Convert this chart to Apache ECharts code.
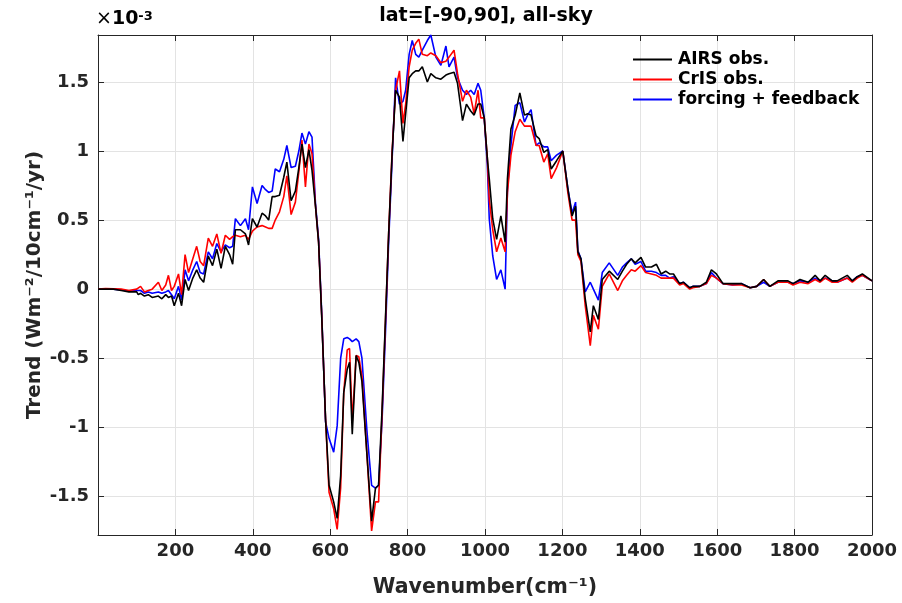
<!DOCTYPE html>
<html>
<head>
<meta charset="utf-8">
<script src="https://cdn.jsdelivr.net/npm/echarts@6/dist/echarts.min.js"></script>
<style>html,body{margin:0;padding:0;background:#fff}#c{width:902px;height:603px}</style>
</head>
<body>
<div id="c"></div>
<script>
const wavenumber = [0,20,40,60,80,100,104,110,120,130,140,156,165,175,182,190,197,208,216,225,234,245,255,264,273,285,296,307,318,329,340,348,355,368,381,389,399,411,424,433,441,450,458,469,480,488,499,510,519,527,536,545,553,562,570,578,588,597,609,618,627,635,644,650,657,667,674,682,695,707,717,725,734,743,751,760,769,779,788,795,804,812,821,829,838,851,860,873,886,899,907,920,929,942,952,963,972,982,989,998,1006,1011,1020,1030,1041,1052,1058,1067,1078,1090,1102,1110,1119,1132,1140,1152,1162,1171,1185,1201,1214,1225,1234,1240,1248,1259,1272,1280,1293,1303,1321,1343,1355,1366,1378,1388,1403,1415,1430,1443,1455,1467,1477,1487,1503,1513,1529,1537,1555,1572,1585,1598,1615,1640,1663,1685,1702,1720,1736,1757,1783,1796,1814,1835,1853,1866,1879,1897,1910,1936,1949,1962,1975,2000];

const airs = [0,0,0,-0.01,-0.02,-0.02,-0.04,-0.03,-0.05,-0.04,-0.06,-0.05,-0.07,-0.04,-0.06,-0.05,-0.12,-0.03,-0.12,0.07,-0.01,0.08,0.14,0.08,0.05,0.24,0.17,0.29,0.15,0.31,0.25,0.18,0.43,0.43,0.4,0.32,0.51,0.45,0.55,0.53,0.5,0.67,0.67,0.68,0.81,0.92,0.64,0.71,0.88,1.05,0.88,1.01,0.86,0.6,0.34,-0.19,-0.94,-1.42,-1.54,-1.66,-1.35,-0.75,-0.58,-0.53,-1.05,-0.48,-0.53,-0.67,-1.2,-1.68,-1.44,-1.42,-0.87,-0.2,0.4,0.98,1.44,1.39,1.07,1.27,1.53,1.56,1.58,1.58,1.61,1.5,1.56,1.53,1.52,1.55,1.56,1.57,1.49,1.22,1.34,1.29,1.26,1.34,1.34,1.24,0.95,0.8,0.51,0.36,0.53,0.34,0.8,1.16,1.26,1.42,1.26,1.27,1.26,1.11,1.09,0.99,1.01,0.87,0.93,1.0,0.73,0.53,0.6,0.27,0.22,-0.07,-0.31,-0.12,-0.22,0.07,0.13,0.07,0.13,0.18,0.22,0.19,0.23,0.16,0.16,0.18,0.11,0.13,0.11,0.11,0.04,0.05,0.01,0.02,0.02,0.05,0.14,0.11,0.04,0.04,0.04,0.01,0.02,0.07,0.02,0.06,0.06,0.04,0.07,0.05,0.1,0.06,0.1,0.06,0.06,0.1,0.06,0.09,0.11,0.06];

const cris = [0,0.005,0.003,0,-0.01,0,0.01,0.02,-0.02,-0.01,0,0.05,-0.01,0.03,0.1,-0.01,0.02,0.11,-0.04,0.25,0.12,0.22,0.31,0.2,0.17,0.37,0.31,0.4,0.26,0.39,0.36,0.38,0.39,0.38,0.39,0.36,0.42,0.45,0.46,0.45,0.44,0.44,0.5,0.56,0.67,0.82,0.54,0.63,0.85,1.08,0.74,1.05,0.98,0.6,0.34,-0.19,-0.94,-1.47,-1.59,-1.74,-1.44,-0.75,-0.44,-0.43,-0.96,-0.48,-0.49,-0.63,-1.2,-1.75,-1.54,-1.54,-0.9,-0.22,0.4,1.0,1.44,1.58,1.2,1.34,1.61,1.73,1.78,1.81,1.7,1.69,1.71,1.69,1.64,1.65,1.68,1.73,1.56,1.36,1.44,1.39,1.27,1.44,1.24,1.24,0.95,0.65,0.43,0.27,0.37,0.27,0.7,0.97,1.14,1.23,1.18,1.18,1.18,1.04,1.04,0.92,0.98,0.8,0.88,1.0,0.7,0.5,0.5,0.25,0.2,-0.12,-0.41,-0.19,-0.29,0.02,0.11,-0.01,0.06,0.1,0.14,0.13,0.17,0.12,0.11,0.1,0.08,0.08,0.08,0.08,0.03,0.04,0,0.01,0.02,0.04,0.1,0.08,0.04,0.03,0.03,0.01,0.02,0.07,0.02,0.05,0.05,0.03,0.05,0.04,0.07,0.05,0.08,0.05,0.05,0.08,0.05,0.08,0.1,0.06];

const model = [0,0,0,-0.005,-0.015,-0.01,-0.01,-0.01,-0.03,-0.02,-0.03,-0.02,-0.03,-0.02,-0.01,-0.04,-0.07,0.02,-0.08,0.14,0.06,0.14,0.2,0.12,0.11,0.27,0.22,0.33,0.27,0.32,0.3,0.31,0.51,0.46,0.51,0.43,0.74,0.62,0.75,0.72,0.7,0.71,0.87,0.85,0.94,1.04,0.88,0.89,1.0,1.13,1.05,1.14,1.1,0.62,0.36,-0.17,-0.96,-1.08,-1.18,-0.99,-0.5,-0.36,-0.35,-0.36,-0.38,-0.36,-0.38,-0.5,-1.03,-1.42,-1.44,-1.42,-0.95,-0.3,0.34,0.94,1.53,1.34,1.36,1.44,1.7,1.8,1.7,1.68,1.73,1.8,1.84,1.68,1.62,1.76,1.61,1.68,1.53,1.44,1.41,1.44,1.41,1.49,1.44,1.24,0.9,0.51,0.24,0.07,0.14,0,0.72,1.04,1.33,1.35,1.21,1.26,1.3,1.04,1.06,1.03,1.03,0.93,0.97,1.0,0.73,0.55,0.63,0.28,0.22,-0.02,0.05,0,-0.08,0.12,0.19,0.1,0.16,0.19,0.22,0.18,0.2,0.13,0.13,0.12,0.1,0.1,0.08,0.09,0.04,0.05,0.01,0.02,0.02,0.04,0.12,0.08,0.04,0.03,0.04,0.01,0.02,0.05,0.02,0.05,0.05,0.04,0.06,0.05,0.08,0.06,0.08,0.06,0.05,0.08,0.06,0.09,0.1,0.06];

const seriesNames = ['AIRS obs.', 'CrIS obs.', 'forcing + feedback'];
const seriesColors = ['#000000', '#ff0000', '#0000ff'];
const xTicks = [200,400,600,800,1000,1200,1400,1600,1800,2000];

function pairs(ys){ return wavenumber.map((x,i)=>[x, ys[i]]); }

const FONT = 'DejaVu Sans';
const AX = '#262626';
const chart = echarts.init(document.getElementById('c'));
const axisCommon = {
  axisLine: {show: true, onZero: false, lineStyle: {color: AX, width: 1}},
  axisTick: {show: true, inside: true, length: 6, lineStyle: {color: AX}},
};
chart.setOption({
  animation: false,
  backgroundColor: '#fff',
  grid: {left: 98, right: 30, top: 35, bottom: 66, containLabel: false},
  graphic: [
    {type: 'text', x: 486, y: 7, style: {text: 'lat=[-90,90], all-sky', align: 'center', font: 'bold 19px "DejaVu Sans"', fill: '#000'}},
    {type: 'text', x: 96, y: 10, style: {
      text: '{a|×}{b|10}{c|-3}',
      rich: {
        a: {fontFamily: FONT, fontSize: 19, color: '#262626', verticalAlign: 'bottom'},
        b: {fontFamily: FONT, fontSize: 19, fontWeight: 'bold', color: '#262626', verticalAlign: 'bottom'},
        c: {fontFamily: FONT, fontSize: 13, fontWeight: 'bold', color: '#262626', verticalAlign: 'top'}
      }
    }}
  ],
  legend: {
    data: seriesNames,
    orient: 'vertical',
    left: 633, top: 51, padding: 0,
    itemWidth: 39, itemHeight: 2, itemGap: 3,
    icon: 'rect',
    textStyle: {fontFamily: FONT, fontWeight: 'bold', fontSize: 17, color: '#000', padding: [0,0,0,1]}
  },
  xAxis: [
    Object.assign({
      type: 'value', min: 0, max: 2000, interval: 200, position: 'bottom',
      name: 'Wavenumber(cm⁻¹)', nameLocation: 'middle', nameGap: 42,
      nameTextStyle: {fontFamily: FONT, fontWeight: 'bold', fontSize: 20.5, color: AX},
      axisLabel: {show: true, margin: 7, fontFamily: FONT, fontWeight: 'bold', fontSize: 18, color: AX,
        formatter: v => (xTicks.indexOf(v) >= 0 ? String(v) : '')},
      splitLine: {show: true, lineStyle: {color: '#e3e3e3', width: 1}}
    }, axisCommon),
    Object.assign({
      type: 'value', min: 0, max: 2000, interval: 200, position: 'top',
      axisLabel: {show: false}, splitLine: {show: false}
    }, axisCommon)
  ],
  yAxis: [
    Object.assign({
      type: 'value', min: -1.78, max: 1.84, splitNumber: 7, position: 'left',
      name: 'Trend (Wm⁻²/10cm⁻¹/yr)', nameLocation: 'middle', nameGap: 53, nameRotate: 90,
      nameMoveOverlap: false,
      nameTextStyle: {fontFamily: FONT, fontWeight: 'bold', fontSize: 20, color: AX},
      axisLabel: {show: true, margin: 9, fontFamily: FONT, fontWeight: 'bold', fontSize: 18, color: AX,
        showMinLabel: false, showMaxLabel: false},
      splitLine: {show: true, lineStyle: {color: '#e3e3e3', width: 1}}
    }, axisCommon),
    Object.assign({
      type: 'value', min: -1.78, max: 1.84, splitNumber: 7, position: 'right',
      axisLabel: {show: false}, splitLine: {show: false}
    }, axisCommon)
  ],
  series: [airs, cris, model].map((d, i) => ({
    name: seriesNames[i], type: 'line', data: pairs(d), showSymbol: false, symbol: 'none',
    lineStyle: {color: seriesColors[i], width: 1.6}, itemStyle: {color: seriesColors[i]},
    z: 3 - i + 2, clip: true
  }))
});
</script>
</body>
</html>
